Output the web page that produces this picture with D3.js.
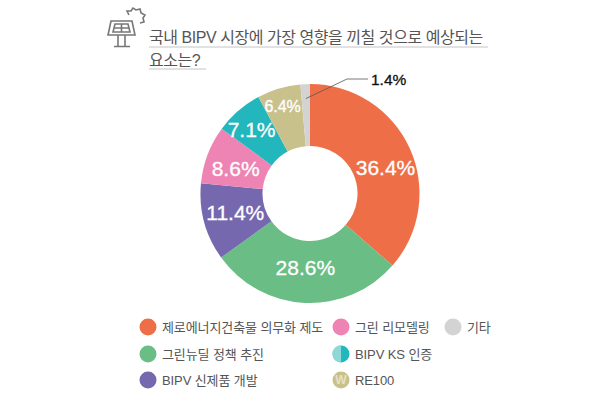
<!DOCTYPE html>
<html>
<head>
<meta charset="utf-8">
<script src="https://cdn.jsdelivr.net/npm/d3@7"></script>
<style>
html, body { margin: 0; padding: 0; background: #fff; }
svg { display: block; }
text { font-family: "Liberation Sans", "Noto Sans CJK KR", sans-serif; }
</style>
</head>
<body>
<div id="chart"></div>
<script>
const titleLines = ['국내 BIPV 시장에 가장 영향을 끼칠 것으로 예상되는', '요소는?'];
const categories = ['제로에너지건축물 의무화 제도', '그린뉴딜 정책 추진', 'BIPV 신제품 개발', '그린 리모델링', 'BIPV KS 인증', 'RE100', '기타'];
const values = [36.4, 28.6, 11.4, 8.6, 7.1, 6.4, 1.4];
const colors = ['#ee6f47', '#69bd85', '#7568ae', '#ee84b3', '#22b6bd', '#c9c18c', '#d3d3d3'];

const width = 600, height = 400;
const cx = 310, cy = 193.5, outerR = 109.5, innerR = 47.5;

const svg = d3.select('#chart').append('svg')
    .attr('width', width)
    .attr('height', height);

// Title
const title = svg.append('g');
title.selectAll('text')
    .data(titleLines)
    .join('text')
    .attr('x', 149)
    .attr('y', (d, i) => 43 + i * 23)
    .attr('font-size', 16)
    .attr('letter-spacing', -0.45)
    .attr('fill', '#555')
    .text(d => d);

title.append('line').attr('x1', 149).attr('x2', 488).attr('y1', 47).attr('y2', 47)
    .attr('stroke', '#c4c4c4').attr('stroke-width', 1);
title.append('line').attr('x1', 149).attr('x2', 206).attr('y1', 69).attr('y2', 69)
    .attr('stroke', '#c4c4c4').attr('stroke-width', 1);

// Solar panel icon
const icon = svg.append('g')
    .attr('fill', 'none')
    .attr('stroke', '#777')
    .attr('stroke-width', 1.6);
icon.append('path').attr('d', 'M111,21 H132 L135,35 H108 Z');
icon.append('path').attr('d', 'M115,24 H128 L130,32 H113 Z');
icon.append('path').attr('d', 'M121.5,24 V32 M114,28 H129');
icon.append('path').attr('d', 'M118,35 V46 M125,35 V46 M114,46.5 H130');
icon.append('path').attr('d', 'M129,15 L127,11 L131,11 L133,8 L136,10 L140,9 L141,13 L145,15 L143,18 L144,22 L140,23');

// Donut
const pie = d3.pie().sort(null).value(d => d);
const arc = d3.arc().innerRadius(innerR).outerRadius(outerR);
const slices = pie(values);

const donut = svg.append('g').attr('transform', `translate(${cx},${cy})`);

donut.selectAll('path')
    .data(slices)
    .join('path')
    .attr('d', arc)
    .attr('fill', (d, i) => colors[i]);

// labels were hand placed in the original, so nudge them off the centroid
const nudges = [[4, 6], [-1, -4], [1, -2], [-1, 3], [-7, -5], [-5, -12]];
donut.selectAll('text')
    .data(slices.slice(0, 6))
    .join('text')
    .attr('x', (d, i) => arc.centroid(d)[0] + nudges[i][0])
    .attr('y', (d, i) => arc.centroid(d)[1] + nudges[i][1])
    .attr('dy', '0.36em')
    .attr('text-anchor', 'middle')
    .attr('fill', '#fff')
    .attr('stroke', '#fff')
    .attr('stroke-width', 0.3)
    .attr('font-size', (d, i) => i === 5 ? 16 : 21)
    .text(d => d.data + '%');

// Callout for the small slice
const small = slices[6];
const start = d3.arc().innerRadius(95).outerRadius(95).centroid(small);
svg.append('path')
    .attr('d', d3.line()([[cx + start[0], cy + start[1]], [347, 79], [368, 79]]))
    .attr('fill', 'none')
    .attr('stroke', '#555')
    .attr('stroke-width', 0.8);
svg.append('text')
    .attr('x', 371)
    .attr('y', 85)
    .attr('font-size', 15.5)
    .attr('stroke', '#111')
    .attr('stroke-width', 0.3)
    .attr('fill', '#111')
    .text(small.data + '%');

// Legend
const legendX = [148, 148, 148, 341, 341, 341, 453];
const legendY = [327, 354, 380, 327, 354, 380, 327];
const legend = svg.append('g');
const items = legend.selectAll('g')
    .data(categories)
    .join('g')
    .attr('transform', (d, i) => `translate(${legendX[i]},${legendY[i]})`);

items.append('circle')
    .attr('r', 8.5)
    .attr('fill', (d, i) => colors[i]);

items.append('text')
    .attr('x', 14)
    .attr('dy', '0.36em')
    .attr('font-size', 13)
    .attr('letter-spacing', -0.1)
    .attr('fill', '#555')
    .text(d => d);

// KS swatch has a pale left half, RE100 swatch a faint W
const halfArc = d3.arc().innerRadius(0).outerRadius(8.5).startAngle(Math.PI).endAngle(2 * Math.PI);
items.filter((d, i) => i === 4).append('path')
    .attr('d', halfArc())
    .attr('fill', '#8fd8d8');
items.filter((d, i) => i === 5).append('text')
    .attr('text-anchor', 'middle')
    .attr('dy', '0.36em')
    .attr('font-size', 12)
    .attr('font-weight', 700)
    .attr('fill', '#e6e1c2')
    .text('W');
</script>
</body>
</html>
